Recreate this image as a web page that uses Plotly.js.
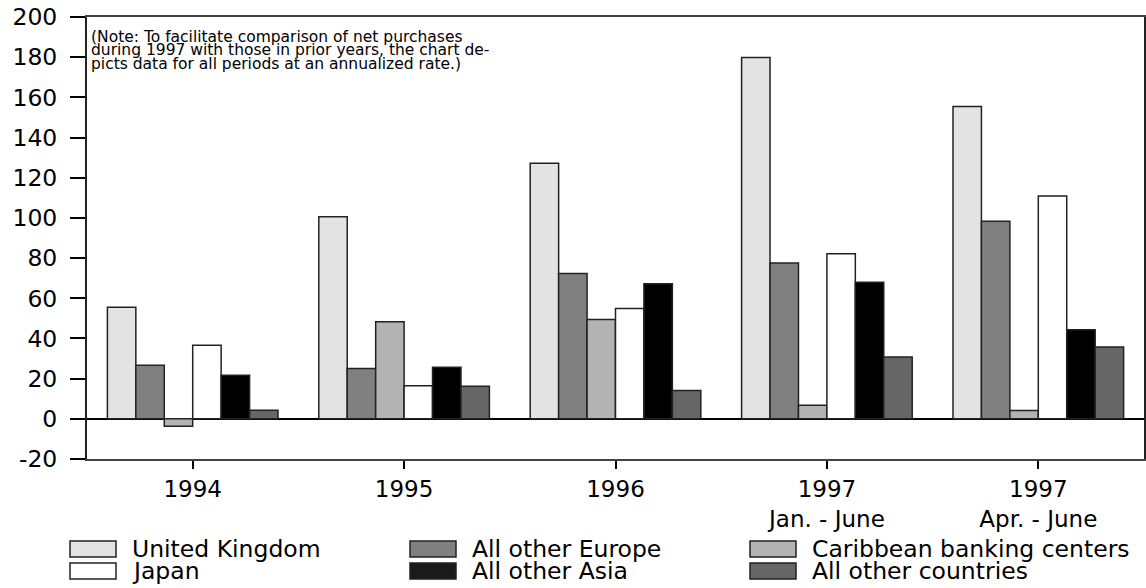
<!DOCTYPE html>
<html><head><meta charset="utf-8">
<script src="https://cdn.plot.ly/plotly-3.0.1.min.js"></script>
<style>html,body{margin:0;padding:0;background:#fff}#chart{width:1146px;height:588px}</style>
</head><body><div id="chart"></div>
<script>
// ---- data ----
const categories = ["1994", "1995", "1996", "1997 Jan-Jun", "1997 Apr-Jun"];
const tickLabels = ["1994", "1995", "1996", "1997<br>Jan. - June", "1997<br>Apr. - June"];
const yTickValues = [-20, 0, 20, 40, 60, 80, 100, 120, 140, 160, 180, 200];
const yTickLabels = ["-20", "0", "20", "40", "60", "80", "100", "120", "140", "160", "180", "200"];
const seriesNames = ["United Kingdom", "All other Europe", "Caribbean banking centers",
                     "Japan", "All other Asia", "All other countries"];
const unitedKingdom = [55.5, 100.6, 127.2, 179.9, 155.5];
const otherEurope   = [26.7, 25.0, 72.3, 77.6, 98.3];
const caribbean     = [-3.7, 48.3, 49.4, 6.8, 4.1];
const japan         = [36.6, 16.4, 54.9, 82.2, 110.9];
const otherAsia     = [21.7, 25.7, 67.2, 68.0, 44.3];
const otherCountries= [4.3, 16.2, 14.1, 30.8, 35.8];
const noteLines = [
  "(Note: To facilitate comparison of net purchases",
  "during 1997 with those in prior years, the chart de-",
  "picts data for all periods at an annualized rate.)"
];

// ---- styles ----
const seriesValues = [unitedKingdom, otherEurope, caribbean, japan, otherAsia, otherCountries];
const seriesColors = ["#e3e3e3", "#808080", "#b3b3b3", "#ffffff", "#000000", "#666666"];
const legendSwatch = ["#e3e3e3", "#808080", "#b3b3b3", "#ffffff", "#1a1a1a", "#666666"];

const W = 1146, H = 588;
const M = {l: 87, r: 2, t: 17, b: 129};
const pw = W - M.l - M.r, ph = H - M.t - M.b;
const px2x = x => (x - M.l) / pw;
const px2y = y => (H - M.b - y) / ph;

const traces = seriesNames.map((name, i) => ({
  type: 'bar',
  name: name,
  x: categories,
  y: seriesValues[i],
  marker: {color: seriesColors[i], line: {color: '#222', width: 1.5}},
  hoverinfo: 'x+y+name'
}));

const font = 'DejaVu Sans, Arial, sans-serif';
const shapes = [];
const annotations = [];
const legendColX = [70, 410, 750];
const legendRowY = [549, 571];
seriesNames.forEach((name, i) => {
  const col = i % 3, row = Math.floor(i / 3);
  const x0 = legendColX[col], yc = legendRowY[row];
  shapes.push({type: 'rect', xref: 'paper', yref: 'paper',
    x0: px2x(x0), x1: px2x(x0 + 46), y0: px2y(yc - 8), y1: px2y(yc + 8),
    fillcolor: legendSwatch[i], line: {color: '#222', width: 1.5}});
  annotations.push({xref: 'paper', yref: 'paper', x: px2x(x0 + 60), y: px2y(yc),
    xanchor: 'left', yanchor: 'middle', text: name, showarrow: false,
    font: {family: font, size: 23.5, color: '#000'}});
});
const noteY = [37, 50.5, 64];
noteLines.forEach((t, i) => {
  annotations.push({xref: 'paper', yref: 'paper', x: px2x(89), y: px2y(noteY[i]),
    xanchor: 'left', yanchor: 'middle', text: t, showarrow: false,
    font: {family: font, size: 15.5, color: '#000'}});
});

const layout = {
  width: W, height: H,
  margin: M,
  paper_bgcolor: '#fff', plot_bgcolor: '#fff',
  barmode: 'group', bargap: 0.193, bargroupgap: 0,
  showlegend: false,
  xaxis: {
    type: 'category', range: [-0.5, 4.5],
    tickvals: categories, ticktext: tickLabels,
    ticks: 'outside', ticklen: 8, tickwidth: 2, tickcolor: '#000',
    showline: true, linecolor: '#444', linewidth: 2, mirror: true,
    showgrid: false, zeroline: false,
    tickfont: {family: font, size: 23, color: '#000'}
  },
  yaxis: {
    range: [-20, 200], tickmode: 'array', tickvals: yTickValues, ticktext: yTickLabels,
    ticks: 'outside', ticklen: 15, tickwidth: 2, tickcolor: '#000',
    showline: true, linecolor: '#222', linewidth: 2, mirror: true,
    showgrid: false, zeroline: true, zerolinecolor: '#000', zerolinewidth: 2,
    ticklabelstandoff: 8,
    tickfont: {family: font, size: 23.5, color: '#000'}
  },
  shapes: shapes,
  annotations: annotations
};

Plotly.newPlot('chart', traces, layout, {displayModeBar: false, staticPlot: true});
</script>
</body></html>
